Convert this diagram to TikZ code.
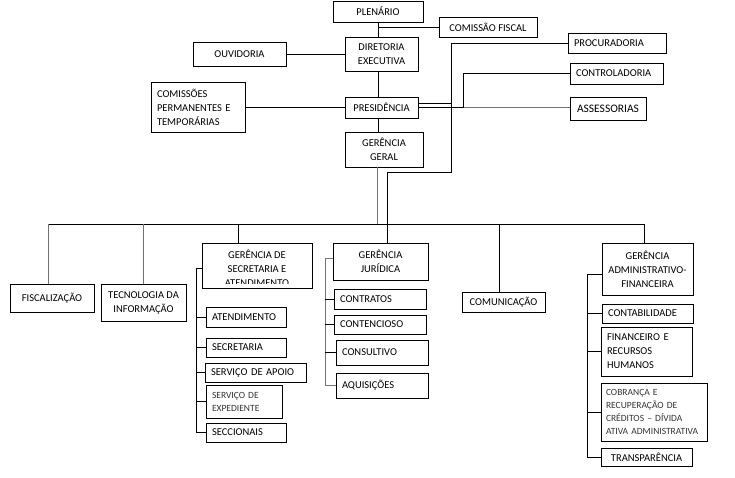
\documentclass[tikz,border=0pt]{standalone}
\usepackage{fontspec}
\setmainfont{Carlito}
\begin{document}
\begin{tikzpicture}[x=1pt,y=-1pt,
	box/.style={draw, line width=0.8pt, inner sep=0pt, align=center, font=\fontsize{10.5}{14}\selectfont},
	lbox/.style={box, align=left, inner xsep=6pt},
	small/.style={font=\fontsize{9.5}{13}\selectfont, text=black!80},
	ln/.style={line width=0.8pt},
	gln/.style={line width=0.8pt, draw=black!55}]
	\useasboundingbox (0,0) rectangle (735,477);
	% top
	\node[box, minimum width=90pt, minimum height=21pt] (plen) at (378,11.5) {PLENÁRIO};
	\node[box, minimum width=98pt, minimum height=20pt] (cfis) at (488,27) {COMISSÃO FISCAL};
	\node[box, minimum width=73pt, minimum height=34pt] (dir) at (381.5,54) {DIRETORIA\\EXECUTIVA};
	\node[box, minimum width=93pt, minimum height=24pt] (ouv) at (239.5,54) {OUVIDORIA};
	\node[lbox, text width=82pt, minimum height=50pt] (coms) at (198,107) {COMISSÕES\\PERMANENTES E\\TEMPORÁRIAS};
	\node[box, minimum width=73pt, minimum height=21pt] (pres) at (381.5,107.5) {PRESIDÊNCIA};
	\node[box, minimum width=78pt, minimum height=35pt] (gg) at (384,149.5) {GERÊNCIA\\GERAL};
	\node[lbox, text width=86pt, minimum height=20pt] (proc) at (617,43) {PROCURADORIA};
	\node[lbox, text width=81pt, minimum height=21pt] (cont) at (616.5,73.5) {CONTROLADORIA};
	\node[box, minimum width=76pt, minimum height=23pt, font=\fontsize{11.5}{14}\selectfont] (asse) at (608,108.5) {ASSESSORIAS};
	% second level
	\node[box, minimum width=84pt, minimum height=28pt] (fisc) at (52,298) {FISCALIZAÇÃO};
	\node[box, minimum width=85pt, minimum height=37pt] (tec) at (143.5,302.5) {TECNOLOGIA DA\\INFORMAÇÃO};
	\node[box, minimum width=110pt, minimum height=45pt] (gsec) at (257,265.5) {};
	\begin{scope}
		\clip ([yshift=5pt]gsec.south west) rectangle (gsec.north east);
		\node[anchor=north, align=center, inner sep=0pt, font=\fontsize{10.5}{14}\selectfont] (gsectxt) at ([yshift=-7pt]gsec.north) {GERÊNCIA DE\\SECRETARIA E\\ATENDIMENTO};
	\end{scope}
	\node[box, minimum width=95pt, minimum height=37pt] (gjur) at (380.5,261.5) {GERÊNCIA\\JURÍDICA};
	\node[box, minimum width=83pt, minimum height=20pt] (comu) at (503.5,302) {COMUNICAÇÃO};
	\node[box, minimum width=91pt, minimum height=52pt] (gadm) at (647.5,269) {GERÊNCIA\\ADMINISTRATIVO-\\FINANCEIRA};
	% secretaria
	\node[lbox, text width=68pt, minimum height=20pt] (aten) at (246,317) {ATENDIMENTO};
	\node[lbox, text width=68pt, minimum height=19pt] (secr) at (246,347.5) {SECRETARIA};
	\node[lbox, text width=89pt, minimum height=19pt] (sapo) at (255.5,372.5) {SERVIÇO DE APOIO};
	\node[lbox, small, text width=64pt, minimum height=33pt] (sexp) at (244,401.5) {SERVIÇO DE\\EXPEDIENTE};
	\node[lbox, text width=68pt, minimum height=19pt] (secc) at (246,432.5) {SECCIONAIS};
	% juridica
	\node[lbox, text width=80pt, minimum height=20pt] (ctr) at (380,299) {CONTRATOS};
	\node[lbox, text width=80pt, minimum height=19pt] (ctc) at (380,324.5) {CONTENCIOSO};
	\node[lbox, text width=80pt, minimum height=25pt] (cons) at (382,352.5) {CONSULTIVO};
	\node[lbox, text width=80pt, minimum height=25pt] (aqui) at (382,385.5) {AQUISIÇÕES};
	% administrativo
	\node[lbox, text width=79pt, minimum height=19pt] (ctb) at (647.5,313.5) {CONTABILIDADE};
	\node[lbox, text width=79pt, minimum height=49pt] (fin) at (646.5,351.5) {FINANCEIRO E\\RECURSOS\\HUMANOS};
	\node[lbox, small, inner xsep=5pt, text width=96pt, minimum height=58pt] (cob) at (654,412) {COBRANÇA E\\RECUPERAÇÃO DE\\CRÉDITOS – DÍVIDA\\ATIVA ADMINISTRATIVA};
	\node[box, minimum width=91pt, minimum height=18pt] (trans) at (646.5,457) {TRANSPARÊNCIA};
	% connectors top
	\draw[ln] (plen.south) -- (plen.south |- dir.north);
	\draw[ln] (plen.south |- cfis.west) -- (cfis.west);
	\draw[ln] (ouv.east) -- (dir.west);
	\draw[ln] (plen.south |- dir.south) -- (plen.south |- pres.north);
	\draw[ln] (coms.east) -- (coms.east -| pres.west);
	\draw[ln] (plen.south |- pres.south) -- (plen.south |- gg.north);
	\coordinate (pv) at (451,172);
	\coordinate (jv) at (387,224);
	\coordinate (cv) at (463,107.5);
	\draw[ln] (proc.west) -| (pv) -| (jv |- gjur.north);
	\draw[ln] ([yshift=4pt]pres.east) -- ([yshift=4pt]pres.east -| pv);
	\draw[ln] (pres.east) -- (cv);
	\draw[gln] (cv) -- (cv -| asse.west);
	\draw[ln] (cv) |- (cont.west);
	% bus
	\coordinate (bl) at (48,224);
	\coordinate (br) at (644,224);
	\coordinate (gv) at (377,224);
	\coordinate (sv) at (238,224);
	\coordinate (mv) at (499,224);
	\draw[ln] (bl) -- (br);
	\draw[gln] (gv |- gg.south) -- (gv);
	\draw[gln] (bl) -- (bl |- fisc.north);
	\draw[gln] (tec.north |- bl) -- (tec.north);
	\draw[ln] (sv) -- (sv |- gsec.north);
	\draw[ln] (mv) -- (mv |- comu.north);
	\draw[ln] (br) -- (br |- gadm.north);
	% subtrees
	\coordinate (s0) at (196,268);
	\coordinate (j0) at (325,258);
	\coordinate (a0) at (587,274);
	\draw[ln] (s0 -| gsec.west) -- (s0) |- (secc.west);
	\foreach \n in {aten,secr,sapo,sexp}
		\draw[ln] (\n.west) -- (\n.west -| s0);
	\draw[gln] (j0 -| gjur.west) -- (j0) |- (aqui.west);
	\foreach \n in {ctr,ctc,cons}
		\draw[ln] (\n.west) -- (\n.west -| j0);
	\draw[ln] (a0 -| gadm.west) -- (a0) |- (trans.west);
	\foreach \n in {ctb,fin,cob}
		\draw[ln] (\n.west) -- (\n.west -| a0);
\end{tikzpicture}
\end{document}
